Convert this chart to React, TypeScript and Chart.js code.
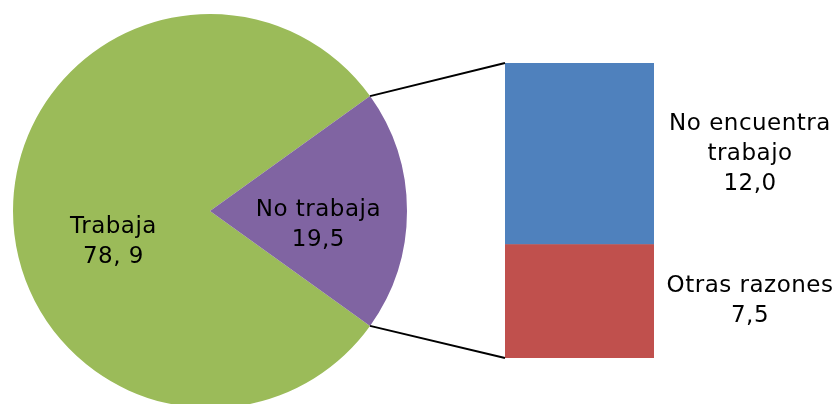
import React, { useEffect, useRef } from "react";
import { Chart, registerables } from "chart.js";

Chart.register(...registerables);

// ---- data ----
const pieLabels = ["Trabaja", "No trabaja"];
const pieValues = [78.9, 19.5];
const pieValueTexts = ["78, 9", "19,5"];
const pieColors = ["#9BBB59", "#8064A2"];

// stacked bar (bottom first)
const barLabels = ["Otras razones", "No encuentra trabajo"];
const barLabelLines = [["Otras razones"], ["No encuentra", "trabajo"]];
const barValues = [7.5, 12.0];
const barValueTexts = ["7,5", "12,0"];
const barColors = ["#C0504D", "#4F81BD"];

const FONT = '23px "DejaVu Sans"';
const LINE_H = 30;

function drawBlock(ctx: CanvasRenderingContext2D, lines: string[], cx: number, cy: number) {
  ctx.save();
  ctx.font = FONT;
  (ctx as any).letterSpacing = "0.5px";
  ctx.fillStyle = "#000000";
  ctx.textAlign = "center";
  ctx.textBaseline = "middle";
  const top = cy - ((lines.length - 1) * LINE_H) / 2;
  lines.forEach((l, i) => ctx.fillText(l, cx, top + i * LINE_H));
  ctx.restore();
}

export default function App() {
  const pieRef = useRef<HTMLCanvasElement>(null);
  const barRef = useRef<HTMLCanvasElement>(null);

  useEffect(() => {
    const total = pieValues.reduce((a, b) => a + b, 0);
    const purpleDeg = (pieValues[1] / total) * 360;
    const rotation = 90 + purpleDeg / 2;

    const pieLabelPlugin = {
      id: "pieLabels",
      afterDatasetsDraw(chart: any) {
        const ctx = chart.ctx;
        const meta = chart.getDatasetMeta(0);
        const fr = [0.49, 0.55];
        const dy = [31, 14];
        meta.data.forEach((arc: any, i: number) => {
          const p = arc.getProps(["x", "y", "startAngle", "endAngle", "outerRadius"], true);
          const mid = (p.startAngle + p.endAngle) / 2;
          const r = p.outerRadius * fr[i];
          drawBlock(ctx, [pieLabels[i], pieValueTexts[i]], p.x + r * Math.cos(mid), p.y + r * Math.sin(mid) + dy[i]);
        });
      },
    };

    const pie = new Chart(pieRef.current!, {
      type: "pie",
      data: {
        labels: pieLabels,
        datasets: [{ data: pieValues, backgroundColor: pieColors, borderWidth: 0 }],
      },
      options: {
        responsive: false,
        animation: false,
        rotation,
        layout: { padding: { left: 13, right: 13, top: 14, bottom: 12 } },
        plugins: { legend: { display: false }, tooltip: { enabled: false } },
      },
      plugins: [pieLabelPlugin],
    });

    const barPlugin = {
      id: "barExtras",
      afterDraw(chart: any) {
        const ctx = chart.ctx;
        const arc: any = pie.getDatasetMeta(0).data[1];
        const p = arc.getProps(["x", "y", "startAngle", "endAngle", "outerRadius"], true);
        const top: any = chart.getDatasetMeta(1).data[0];
        const bot: any = chart.getDatasetMeta(0).data[0];
        const left = top.x - top.width / 2;
        const right = top.x + top.width / 2;
        ctx.save();
        ctx.strokeStyle = "#000000";
        ctx.lineWidth = 2;
        ctx.beginPath();
        ctx.moveTo(p.x + p.outerRadius * Math.cos(p.startAngle), p.y + p.outerRadius * Math.sin(p.startAngle));
        ctx.lineTo(left, top.y);
        ctx.moveTo(p.x + p.outerRadius * Math.cos(p.endAngle), p.y + p.outerRadius * Math.sin(p.endAngle));
        ctx.lineTo(left, bot.base);
        ctx.stroke();
        ctx.restore();
        [bot, top].forEach((el: any, i: number) => {
          const cy = (el.y + el.base) / 2;
          drawBlock(ctx, [...barLabelLines[i], barValueTexts[i]], right + 96, cy);
        });
      },
    };

    const bar = new Chart(barRef.current!, {
      type: "bar",
      data: {
        labels: [""],
        datasets: barValues.map((v, i) => ({
          label: barLabels[i],
          data: [v],
          backgroundColor: barColors[i],
          borderWidth: 0,
          barPercentage: 1,
          categoryPercentage: 1,
        })),
      },
      options: {
        responsive: false,
        animation: false,
        layout: { padding: { left: 505, right: 182, top: 63, bottom: 46 } },
        scales: {
          x: { stacked: true, display: false },
          y: { stacked: true, display: false, min: 0, max: barValues.reduce((a, b) => a + b, 0) },
        },
        plugins: { legend: { display: false }, tooltip: { enabled: false } },
      },
      plugins: [barPlugin],
    });

    return () => {
      bar.destroy();
      pie.destroy();
    };
  }, []);

  return (
    <div style={{ position: "absolute", left: 0, top: 0, width: 836, height: 404, overflow: "hidden", background: "#fff" }}>
      <canvas ref={pieRef} width={420} height={420} style={{ position: "absolute", left: 0, top: 0, display: "block" }} />
      <canvas ref={barRef} width={836} height={404} style={{ position: "absolute", left: 0, top: 0, display: "block" }} />
    </div>
  );
}
